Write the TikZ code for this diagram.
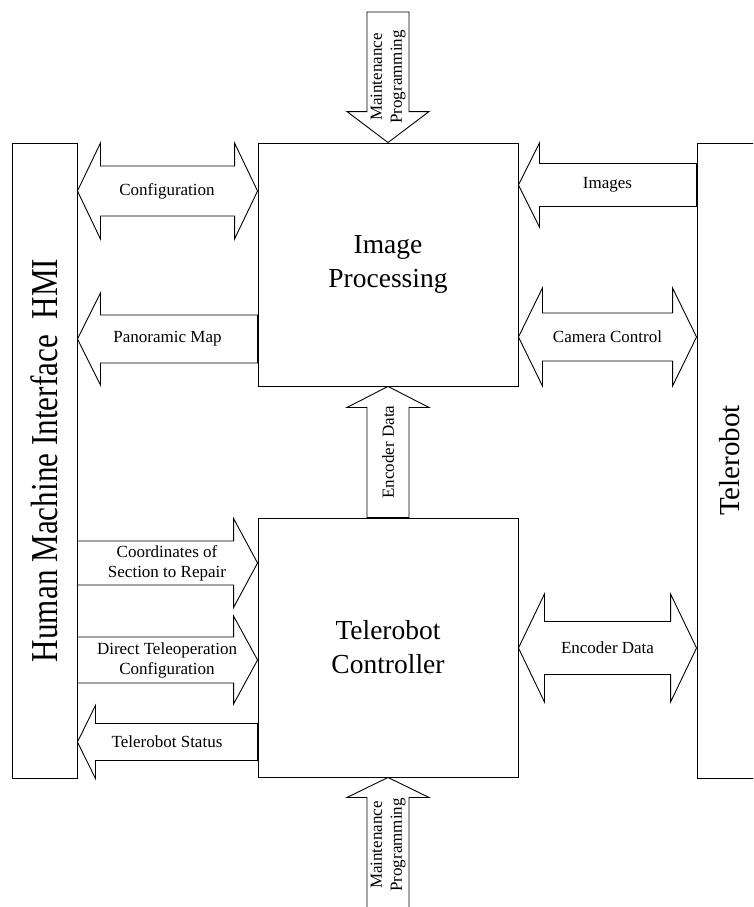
\documentclass[tikz,border=0pt]{standalone}
\usepackage{fontspec}
\setmainfont{Liberation Serif}
\usepackage{tikz}
\usetikzlibrary{calc}
\tikzset{
	unit/.style   ={rectangle, draw=black, line width=0.9pt, inner sep=0pt, align=center},
	bigtxt/.style ={font=\fontsize{27.5}{34}\selectfont},
	lbl/.style    ={align=center, inner sep=0pt, font=\fontsize{17}{20}\selectfont},
	% block arrows: {shaft half width}{head half width}{head length}
	onearrow/.style n args={3}{draw=black, line width=0.9pt, to path={
		($(\tikztostart)!#1pt!90:(\tikztotarget)$)
		-- ($(\tikztotarget)!#3pt!(\tikztostart)!#1pt!90:(\tikztotarget)$)
		-- ($(\tikztotarget)!#3pt!(\tikztostart)!#2pt!90:(\tikztotarget)$)
		-- (\tikztotarget)
		-- ($(\tikztotarget)!#3pt!(\tikztostart)!#2pt!-90:(\tikztotarget)$)
		-- ($(\tikztotarget)!#3pt!(\tikztostart)!#1pt!-90:(\tikztotarget)$)
		-- ($(\tikztostart)!#1pt!-90:(\tikztotarget)$) -- cycle}},
	twoarrow/.style n args={3}{draw=black, line width=0.9pt, to path={
		-- ($(\tikztostart)!#3pt!(\tikztotarget)!#2pt!90:(\tikztotarget)$)
		-- ($(\tikztostart)!#3pt!(\tikztotarget)!#1pt!90:(\tikztotarget)$)
		-- ($(\tikztotarget)!#3pt!(\tikztostart)!#1pt!90:(\tikztotarget)$)
		-- ($(\tikztotarget)!#3pt!(\tikztostart)!#2pt!90:(\tikztotarget)$)
		-- (\tikztotarget)
		-- ($(\tikztotarget)!#3pt!(\tikztostart)!#2pt!-90:(\tikztotarget)$)
		-- ($(\tikztotarget)!#3pt!(\tikztostart)!#1pt!-90:(\tikztotarget)$)
		-- ($(\tikztostart)!#3pt!(\tikztotarget)!#1pt!-90:(\tikztotarget)$)
		-- ($(\tikztostart)!#3pt!(\tikztotarget)!#2pt!-90:(\tikztotarget)$) -- cycle}},
}

\begin{document}
\begin{tikzpicture}[x=1pt, y=-1pt]
	\useasboundingbox (0,0) rectangle (753,907);
	\clip (0,0) rectangle (753,907);
	% blocks
	\node[unit, minimum width=65, minimum height=635] (hmi) at (44.5,460.5)
		{\rotatebox{90}{\fontsize{38}{40}\selectfont\scalebox{0.82}[1]{Human Machine Interface\ \ HMI}}};
	\node[unit, minimum width=66, minimum height=635] (robot) at (730,460.5)
		{\rotatebox{90}{\fontsize{29}{32}\selectfont Telerobot}};
	\node[unit, bigtxt, minimum width=260, minimum height=243] (improc) at (388,264.5) {Image\\Processing};
	\node[unit, bigtxt, minimum width=260, minimum height=259] (ctrl) at (388,647.5) {Telerobot\\Controller};
	% rows of the arrows
	\coordinate (rimg) at (0,185);
	\coordinate (rcfg) at (0,191);
	\coordinate (rcam) at (0,337);
	\coordinate (rpan) at (0,339);
	\coordinate (rcoord) at (0,563);
	\coordinate (renc) at (0,648);
	\coordinate (rdirect) at (0,660);
	\coordinate (rstat) at (0,742);
	\coordinate (mtop) at (388,12);
	\coordinate (mbot) at (388,912);
	% arrows
	\draw[onearrow={21}{41}{31}] (mtop) to (improc.north);
	\draw[twoarrow={25}{48}{23}] (hmi.east |- rcfg) to (improc.west |- rcfg);
	\draw[onearrow={24}{46}{23}] (improc.west |- rpan) to (hmi.east |- rpan);
	\draw[onearrow={21.5}{42}{21}] (robot.west |- rimg) to (improc.east |- rimg);
	\draw[twoarrow={24}{49}{24}] (improc.east |- rcam) to (robot.west |- rcam);
	\draw[onearrow={21}{41}{21}] (ctrl.north) to (improc.south);
	\draw[onearrow={22}{44.5}{24}] (hmi.east |- rcoord) to (ctrl.west |- rcoord);
	\draw[onearrow={23}{44}{24}] (hmi.east |- rdirect) to (ctrl.west |- rdirect);
	\draw[onearrow={18.5}{36.5}{18}] (ctrl.west |- rstat) to (hmi.east |- rstat);
	\draw[twoarrow={26.5}{54}{26}] (ctrl.east |- renc) to (robot.west |- renc);
	\draw[onearrow={21}{41}{20}] (mbot) to (ctrl.south);
	% labels
	\node[lbl] (lcfg) at (167,191) {Configuration};
	\node[lbl] (lpan) at (167.5,339) {Panoramic Map};
	\node[lbl] (limg) at (607.5,185) {Images};
	\node[lbl] (lcam) at (607.5,337) {Camera Control};
	\node[lbl] (lcoord) at (167,563) {Coordinates of\\Section to Repair};
	\node[lbl] (ldirect) at (167,660) {Direct Teleoperation\\Configuration};
	\node[lbl] (lstat) at (167,742) {Telerobot Status};
	\node[lbl] (lenc) at (607.5,648) {Encoder Data};
	\node[lbl, rotate=90] (lencv) at (388,452) {Encoder Data};
	\node[lbl, rotate=90] (lmtop) at (388,77) {Maintenance\\Programming};
	\node[lbl, rotate=90] (lmbot) at (388,845) {Maintenance\\Programming};
\end{tikzpicture}
\end{document}
